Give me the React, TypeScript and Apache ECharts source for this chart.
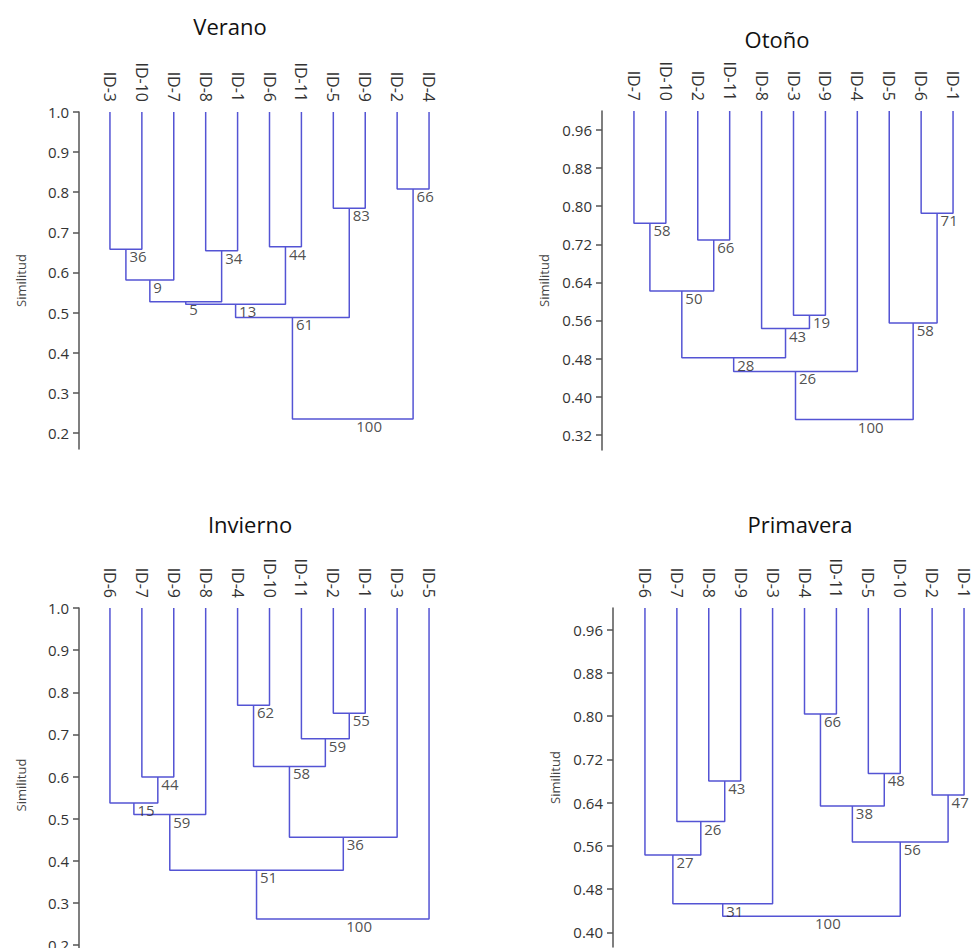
import React, { useEffect, useRef } from "react";
import * as echarts from "echarts";

// ---------- DATA ----------
type Merge = [string, string, number, string];

const veranoLeaves = ["ID-3", "ID-10", "ID-7", "ID-8", "ID-1", "ID-6", "ID-11", "ID-5", "ID-9", "ID-2", "ID-4"];
const veranoMerges: Merge[] = [
  ["ID-3", "ID-10", 0.658, "36"],
  ["N0", "ID-7", 0.581, "9"],
  ["ID-8", "ID-1", 0.654, "34"],
  ["N1", "N2", 0.527, "5"],
  ["ID-6", "ID-11", 0.664, "44"],
  ["N3", "N4", 0.521, "13"],
  ["ID-5", "ID-9", 0.76, "83"],
  ["N5", "N6", 0.488, "61"],
  ["ID-2", "ID-4", 0.808, "66"],
  ["N7", "N8", 0.235, "100"],
];
const veranoTicks = [0.2, 0.3, 0.4, 0.5, 0.6, 0.7, 0.8, 0.9, 1.0];

const otonoLeaves = ["ID-7", "ID-10", "ID-2", "ID-11", "ID-8", "ID-3", "ID-9", "ID-4", "ID-5", "ID-6", "ID-1"];
const otonoMerges: Merge[] = [
  ["ID-7", "ID-10", 0.764, "58"],
  ["ID-2", "ID-11", 0.729, "66"],
  ["N0", "N1", 0.622, "50"],
  ["ID-3", "ID-9", 0.571, "19"],
  ["ID-8", "N3", 0.543, "43"],
  ["N2", "N4", 0.482, "28"],
  ["N5", "ID-4", 0.453, "26"],
  ["ID-6", "ID-1", 0.785, "71"],
  ["ID-5", "N7", 0.555, "58"],
  ["N6", "N8", 0.352, "100"],
];
const otonoTicks = [0.32, 0.4, 0.48, 0.56, 0.64, 0.72, 0.8, 0.88, 0.96];

const inviernoLeaves = ["ID-6", "ID-7", "ID-9", "ID-8", "ID-4", "ID-10", "ID-11", "ID-2", "ID-1", "ID-3", "ID-5"];
const inviernoMerges: Merge[] = [
  ["ID-7", "ID-9", 0.599, "44"],
  ["ID-6", "N0", 0.537, "15"],
  ["N1", "ID-8", 0.51, "59"],
  ["ID-4", "ID-10", 0.769, "62"],
  ["ID-2", "ID-1", 0.75, "55"],
  ["ID-11", "N4", 0.69, "59"],
  ["N3", "N5", 0.624, "58"],
  ["N6", "ID-3", 0.456, "36"],
  ["N2", "N7", 0.378, "51"],
  ["N8", "ID-5", 0.262, "100"],
];
const inviernoTicks = [0.2, 0.3, 0.4, 0.5, 0.6, 0.7, 0.8, 0.9, 1.0];

const primaveraLeaves = ["ID-6", "ID-7", "ID-8", "ID-9", "ID-3", "ID-4", "ID-11", "ID-5", "ID-10", "ID-2", "ID-1"];
const primaveraMerges: Merge[] = [
  ["ID-4", "ID-11", 0.804, "66"],
  ["ID-8", "ID-9", 0.68, "43"],
  ["ID-7", "N1", 0.605, "26"],
  ["ID-6", "N2", 0.543, "27"],
  ["N3", "ID-3", 0.453, "31"],
  ["ID-5", "ID-10", 0.694, "48"],
  ["N0", "N5", 0.634, "38"],
  ["ID-2", "ID-1", 0.654, "47"],
  ["N6", "N7", 0.567, "56"],
  ["N4", "N8", 0.43, "100"],
];
const primaveraTicks = [0.4, 0.48, 0.56, 0.64, 0.72, 0.8, 0.88, 0.96];

const titles = ["Verano", "Otoño", "Invierno", "Primavera"];
const yName = "Similitud";

// ---------- LAYOUT ----------
const FONT = "'Open Sans', 'Noto Sans', sans-serif";
const LINE = "#5454d4";
const AXIS = "#555555";
const TEXT = "#333333";

const panels = [
  { leaves: veranoLeaves, merges: veranoMerges, ticks: veranoTicks, dec: 1, min: 0.16, grid: { left: 94, top: 112, width: 351, height: 337 }, offset: 15, title: { left: 225, top: 10 } },
  { leaves: otonoLeaves, merges: otonoMerges, ticks: otonoTicks, dec: 2, min: 0.288, grid: { left: 618, top: 111, width: 351, height: 339 }, offset: 16, title: { left: 772, top: 23 } },
  { leaves: inviernoLeaves, merges: inviernoMerges, ticks: inviernoTicks, dec: 1, min: 0.16, grid: { left: 94, top: 608, width: 351, height: 354 }, offset: 15, title: { left: 245, top: 508 } },
  { leaves: primaveraLeaves, merges: primaveraMerges, ticks: primaveraTicks, dec: 2, min: 0.373, grid: { left: 629, top: 608, width: 351, height: 339 }, offset: 16, title: { left: 795, top: 508 } },
];

function buildOption() {
  const grid: any[] = [];
  const xAxis: any[] = [];
  const yAxis: any[] = [];
  const series: any[] = [];
  const title: any[] = [];

  panels.forEach((p, i) => {
    grid.push({ ...p.grid, outerBoundsMode: "none", containLabel: false });
    title.push({
      text: titles[i],
      left: p.title.left,
      top: p.title.top,
      textAlign: "center",
      textStyle: { fontFamily: FONT, fontSize: 22, fontWeight: "normal", color: "#111" },
    });
    xAxis.push({
      type: "value",
      gridIndex: i,
      min: -0.5,
      max: 10.5,
      show: false,
    });
    xAxis.push({
      type: "category",
      gridIndex: i,
      position: "top",
      data: p.leaves,
      boundaryGap: true,
      axisLine: { show: false },
      axisTick: { show: false },
      axisLabel: { rotate: 90, margin: 10, fontFamily: FONT, fontSize: 16, color: TEXT, interval: 0 },
    });
    yAxis.push({
      type: "value",
      gridIndex: i,
      min: p.min,
      max: 1.0,
      offset: p.offset,
      name: yName,
      nameLocation: "middle",
      nameGap: 52,
      nameRotate: 90,
      nameTextStyle: { fontFamily: FONT, fontSize: 13, color: "#444" },
      splitLine: { show: false },
      axisLine: { show: true, onZero: false, lineStyle: { color: AXIS, width: 1.5 } },
      axisTick: { show: true, length: 6, lineStyle: { color: AXIS, width: 1.5 }, customValues: p.ticks },
      axisLabel: {
        customValues: p.ticks,
        margin: 10,
        fontFamily: FONT,
        fontSize: 15,
        color: TEXT,
        formatter: (v: number) => v.toFixed(p.dec),
      },
    });

    const pos: Record<string, [number, number]> = {};
    p.leaves.forEach((l, k) => (pos[l] = [k, 1.0]));
    const labelPts: any[] = [];
    p.merges.forEach(([a, b, h, lab], k) => {
      const pa = pos[a];
      const pb = pos[b];
      series.push({
        type: "line",
        xAxisIndex: i * 2,
        yAxisIndex: i,
        data: [
          [pa[0], pa[1]],
          [pa[0], h],
          [pb[0], h],
          [pb[0], pb[1]],
        ],
        symbol: "none",
        silent: true,
        lineStyle: { color: LINE, width: 1.5 },
      });
      const nx = (pa[0] + pb[0]) / 2;
      pos["N" + k] = [nx, h];
      labelPts.push({ value: [nx, h], name: lab });
    });
    series.push({
      type: "scatter",
      xAxisIndex: i * 2,
      yAxisIndex: i,
      data: labelPts,
      symbolSize: 1,
      itemStyle: { color: "rgba(0,0,0,0)" },
      silent: true,
      z: 3,
      label: {
        show: true,
        position: [4, 0],
        align: "left",
        verticalAlign: "top",
        formatter: (d: any) => d.name,
        fontFamily: FONT,
        fontSize: 15,
        color: "#222222",
        textBorderWidth: 0,
      },
    });
  });

  return { animation: false, backgroundColor: "#ffffff", title, grid, xAxis, yAxis, series };
}

export default function App() {
  const ref = useRef<HTMLDivElement>(null);
  useEffect(() => {
    if (!ref.current) return;
    const chart = echarts.init(ref.current, undefined, { renderer: "svg" });
    chart.setOption(buildOption() as any);
    return () => chart.dispose();
  }, []);
  return (
    <div
      ref={ref}
      style={{ position: "fixed", left: 0, top: 0, width: 974, height: 948, background: "#fff" }}
    />
  );
}
